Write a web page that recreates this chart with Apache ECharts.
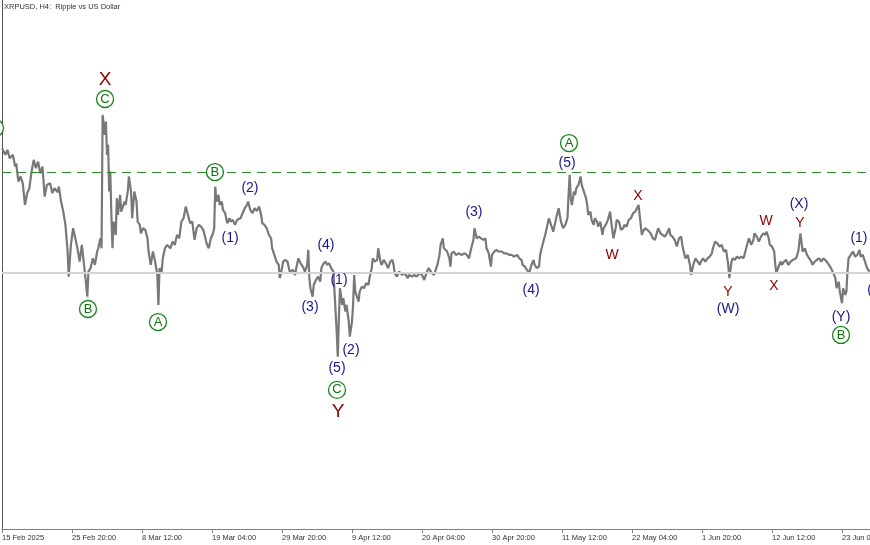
<!DOCTYPE html>
<html><head><meta charset="utf-8">
<script src="https://cdn.jsdelivr.net/npm/echarts@6.0.0/dist/echarts.min.js"></script>
<style>html,body{margin:0;padding:0;background:#fff}#c{width:870px;height:545px}</style>
</head><body><div id="c"></div>
<script>
// Time axis: H4 bar index counted from 15 Feb 2025 00:00; one tick label every 64 bars
const tickLabels = ['15 Feb 2025','25 Feb 20:00','8 Mar 12:00','19 Mar 04:00','29 Mar 20:00','9 Apr 12:00','20 Apr 04:00','30 Apr 20:00','11 May 12:00','22 May 04:00','1 Jun 20:00','12 Jun 12:00','23 Jun 04:00'];
const barsPerTick = 64;
const lastBar = 793.6;

// XRPUSD price path (bar index, price)
const barIdx = [
0,3,5,7,10,12,13,15,17,19,21,23,25,27,29,31,33,35,37,39,41,44,46,48,51,52,54,56,58,59,60,61,63,65,67,69,71,73,74,76,78,79,81,83,85,87,88,90,91,92,94,95,96,97,98,99,100,101,102,104,105,106,108,109,112,113,115,116,118,119,121,123,124,126,127,129,
131,133,134,136,138,140,142,143,144,146,147,149,151,154,156,158,160,162,164,166,168,170,172,174,176,178,180,182,184,186,187,189,191,193,194,195,196,198,199,201,202,204,206,208,209,211,213,215,218,220,222,224,225,227,229,231,233,235,237,238,240,242,244,246,247,249,251,253,254,256,257,259,261,263,
266,268,269,271,273,275,277,279,280,281,282,284,285,287,289,291,292,294,296,297,299,301,303,304,305,306,307,308,309,311,312,314,315,317,318,320,321,322,323,324,326,327,329,331,333,335,336,338,339,341,343,344,346,347,349,351,353,355,357,358,359,361,363,364,366,368,371,372,375,377,379,382,384,386,388,390,391,393,395,
398,400,401,403,404,407,409,410,411,413,415,418,420,423,425,427,429,431,432,434,436,438,440,442,443,445,447,448,450,452,454,457,459,461,464,466,468,471,473,475,476,478,480,482,484,486,487,489,491,492,493,495,497,498,500,501,503,504,506,507,509,511,513,515,517,518,519,520,521,523,524,525,527,
529,530,532,534,535,536,538,539,541,542,544,545,547,549,550,552,554,556,557,559,561,562,564,566,568,569,571,573,575,577,579,580,582,583,585,586,588,590,591,593,595,597,599,600,602,604,606,608,610,611,613,615,617,619,621,622,624,625,627,629,630,632,634,636,638,639,641,643,645,647,649,650,652,654,656,658,660,
661,662,664,665,667,668,670,672,674,676,678,680,682,683,685,687,688,690,692,694,696,698,699,701,702,704,706,707,708,710,712,713,715,717,719,721,723,724,726,728,730,731,732,734,736,738,740,741,743,745,747,749,751,752,754,756,758,760,762,763,765,766,768,769,771,772,773,774,776,778,780,782,784,785,787,789,791,793
];
const price = [
2.793,2.756,2.784,2.737,2.756,2.690,2.709,2.607,2.635,2.597,2.476,2.542,2.569,2.663,2.728,2.681,2.718,2.653,2.690,2.523,2.588,2.597,2.542,2.569,2.547,2.579,2.495,2.439,2.365,2.290,2.216,2.076,2.253,2.346,2.290,2.234,2.160,2.253,2.197,2.085,1.964,2.104,2.123,2.178,2.141,2.216,2.234,2.290,2.234,2.979,2.867,2.942,2.756,2.812,2.551,2.663,2.420,2.234,2.383,2.309,2.514,2.420,2.532,2.439,2.495,2.476,2.551,2.635,2.551,2.402,2.551,2.495,2.383,2.365,2.318,2.346,
2.337,2.290,2.216,2.141,2.216,2.160,2.085,1.918,2.123,2.104,2.178,2.234,2.253,2.234,2.272,2.253,2.309,2.290,2.383,2.402,2.467,2.420,2.374,2.383,2.281,2.346,2.365,2.355,2.337,2.290,2.262,2.234,2.290,2.318,2.346,2.579,2.495,2.532,2.476,2.495,2.448,2.430,2.374,2.402,2.383,2.393,2.365,2.393,2.402,2.430,2.458,2.476,2.495,2.448,2.430,2.458,2.443,2.467,2.420,2.374,2.365,2.346,2.309,2.290,2.234,2.197,2.160,2.141,2.067,2.123,2.160,2.169,2.160,2.104,
2.113,2.085,2.123,2.178,2.150,2.132,2.104,2.141,2.225,2.067,2.011,1.964,2.029,2.057,2.076,2.048,2.123,2.150,2.160,2.141,2.150,2.123,2.104,1.992,1.880,1.769,1.629,1.843,2.011,1.918,1.955,1.880,1.918,1.825,1.741,1.825,1.918,2.085,1.992,1.974,1.936,1.992,2.020,2.011,2.039,2.029,2.067,2.123,2.178,2.160,2.169,2.234,2.160,2.141,2.169,2.150,2.123,2.160,2.169,2.141,2.095,2.076,2.104,2.113,2.085,2.095,2.067,2.085,2.076,2.085,2.076,2.095,2.085,2.057,2.095,2.123,2.132,2.095,2.085,
2.141,2.197,2.253,2.290,2.234,2.216,2.178,2.132,2.206,2.216,2.197,2.206,2.197,2.206,2.197,2.178,2.234,2.281,2.346,2.290,2.299,2.290,2.281,2.290,2.234,2.206,2.132,2.197,2.216,2.225,2.216,2.216,2.206,2.206,2.197,2.197,2.188,2.197,2.178,2.169,2.141,2.132,2.113,2.095,2.141,2.169,2.141,2.123,2.132,2.197,2.225,2.272,2.318,2.346,2.402,2.393,2.346,2.327,2.383,2.411,2.458,2.383,2.346,2.365,2.402,2.532,2.644,2.514,2.476,2.551,2.532,2.569,2.588,
2.635,2.588,2.551,2.514,2.476,2.420,2.439,2.393,2.365,2.402,2.383,2.355,2.383,2.309,2.346,2.365,2.393,2.439,2.383,2.290,2.346,2.393,2.383,2.337,2.346,2.365,2.355,2.393,2.402,2.430,2.439,2.448,2.476,2.420,2.309,2.327,2.346,2.337,2.346,2.318,2.290,2.281,2.327,2.346,2.318,2.309,2.299,2.318,2.346,2.309,2.299,2.281,2.244,2.290,2.299,2.253,2.197,2.178,2.197,2.141,2.085,2.141,2.178,2.160,2.141,2.160,2.178,2.160,2.178,2.188,2.206,2.234,2.272,2.262,2.244,2.253,2.216,
2.206,2.225,2.141,2.067,2.160,2.178,2.169,2.188,2.178,2.188,2.178,2.225,2.272,2.290,2.253,2.281,2.318,2.299,2.272,2.299,2.318,2.309,2.327,2.290,2.253,2.244,2.216,2.141,2.095,2.132,2.160,2.141,2.160,2.169,2.141,2.160,2.169,2.169,2.178,2.216,2.318,2.309,2.216,2.234,2.197,2.178,2.160,2.141,2.160,2.169,2.178,2.160,2.178,2.169,2.160,2.141,2.123,2.095,2.067,2.011,2.048,1.992,1.927,2.011,1.974,1.992,2.104,2.178,2.197,2.216,2.188,2.197,2.225,2.188,2.197,2.160,2.123,2.104
];

// horizontal levels
const levelGray = 2.096;
const levelGreen = 2.66;

// Elliott wave labels: text, bar index, price, kind (c = circled green, n = navy, r = dark red, R = big dark red)
const waveText  = ['A','X','C','B','A','B','(2)','(1)','(4)','(3)','(1)','(2)','(5)','C','Y','(3)','(4)','A','(5)','X','W','Y','(W)','W','X','(X)','Y','(1)','(Y)','B','(2)'];
const waveIdx   = [-6.4,94.2,94.2,78.6,142.6,194.7,226.7,208.5,296.2,281.6,308.1,319.1,306.3,306.3,307.2,431.5,483.7,518.4,516.6,581.5,557.7,663.8,663.8,698.5,705.8,728.7,729.6,783.5,767.1,767.1,799];
const wavePrice = [2.906,3.174,3.068,1.895,1.822,2.660,2.571,2.292,2.253,1.906,2.057,1.666,1.565,1.443,1.320,2.437,2.001,2.822,2.711,2.526,2.197,1.990,1.895,2.387,2.024,2.482,2.375,2.292,1.850,1.750,2.001];
const waveKind  = ['c','R','c','c','c','c','n','n','n','n','n','n','n','c','R','n','n','c','n','r','r','r','n','r','r','n','r','n','n','c','n'];

const pricePath = barIdx.map((b, i) => [b, price[i]]);
function labelsOf(kind) {
  const out = [];
  waveText.forEach((t, i) => { if (waveKind[i] === kind) out.push({ name: t, value: [waveIdx[i], wavePrice[i]] }); });
  return out;
}
const FONT = 'Liberation Sans';
function textSeries(kind, color, size) {
  return {
    type: 'scatter', data: labelsOf(kind), symbolSize: 1, clip: false, silent: true, z: 10,
    itemStyle: { color: 'rgba(0,0,0,0)', opacity: 1 },
    label: { show: true, position: 'inside', formatter: '{b}', color: color, fontSize: size, fontFamily: FONT, opacity: 1 },
    emphasis: { disabled: true }
  };
}

const chart = echarts.init(document.getElementById('c'), null, { renderer: 'canvas' });
chart.setOption({
  animation: false,
  backgroundColor: '#ffffff',
  title: {
    text: 'XRPUSD, H4:  Ripple vs US Dollar', left: 4, top: 3, padding: 0,
    textStyle: { fontSize: 7.5, fontWeight: 'normal', color: '#333', fontFamily: FONT }
  },
  grid: { left: 2, right: 0, top: 0, bottom: 16, containLabel: false, outerBoundsMode: 'none' },
  xAxis: {
    type: 'value', min: 0, max: lastBar, interval: barsPerTick,
    axisLine: { show: true, onZero: false, lineStyle: { color: '#808080' } },
    axisTick: { show: true, length: 4, lineStyle: { color: '#808080' } },
    axisLabel: {
      align: 'left', margin: 5, fontSize: 7.5, color: '#333', fontFamily: FONT,
      showMaxLabel: false, hideOverlap: false,
      formatter: v => (v % barsPerTick === 0 ? (tickLabels[v / barsPerTick] || '') : '')
    },
    splitLine: { show: false }
  },
  yAxis: {
    type: 'value', min: 0.666, max: 3.621, scale: true,
    axisLine: { show: true, lineStyle: { color: '#555' } },
    axisTick: { show: false }, axisLabel: { show: false }, splitLine: { show: false }
  },
  series: [
    {
      type: 'line', data: [], z: 1, silent: true,
      markLine: {
        symbol: ['none', 'none'], silent: true, label: { show: false },
        data: [
          { yAxis: levelGray, lineStyle: { color: '#d4d4d4', width: 2, type: 'solid', opacity: 1 } },
          { yAxis: levelGreen, lineStyle: { color: '#2f8a2f', width: 1, type: [9, 6], opacity: 1 } }
        ]
      }
    },
    {
      type: 'line', data: pricePath, showSymbol: false, z: 2, silent: true,
      lineStyle: { color: '#787878', width: 2.2 }
    },
    {
      type: 'scatter', data: labelsOf('c'), symbol: 'circle', symbolSize: 17, clip: false, silent: true, z: 11,
      itemStyle: { color: '#ffffff', borderColor: '#17851a', borderWidth: 1.3, opacity: 1 },
      label: { show: true, position: 'inside', formatter: '{b}', color: '#0f7512', fontSize: 13, fontFamily: FONT, opacity: 1 },
      emphasis: { disabled: true }
    },
    textSeries('n', '#17178a', 14),
    textSeries('r', '#8b0000', 14),
    textSeries('R', '#8b0000', 19)
  ]
});
</script>
</body></html>
